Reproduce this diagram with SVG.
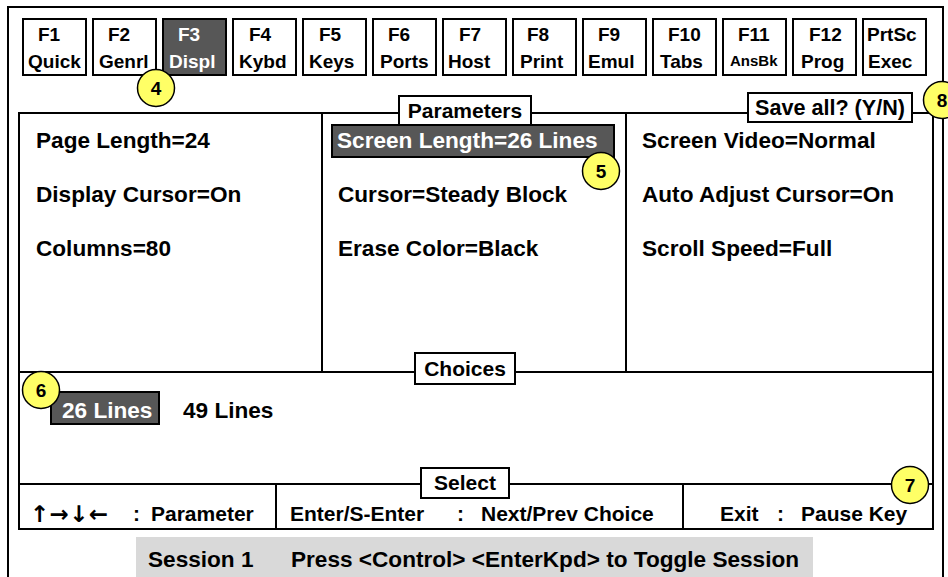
<svg xmlns="http://www.w3.org/2000/svg" width="948" height="577" viewBox="0 0 948 577">
<style>
text{font-family:"Liberation Sans",Arial,sans-serif;font-weight:bold;fill:#000}
.fr{fill:none;stroke:#000;stroke-width:2}
.box{fill:#fff;stroke:#000;stroke-width:2}
.sel{fill:#575757;stroke:#000;stroke-width:2}
.ln{stroke:#000;stroke-width:2;fill:none}
.k{font-size:19px}
.t{font-size:22.6px}
.s{font-size:21px}
.ss{font-size:22.6px}
.ar{font-family:"DejaVu Sans",sans-serif;font-weight:bold;font-size:23px}
.w{fill:#fff}
.c{fill:#ffff66;stroke:#000;stroke-width:1.5}
.n{font-size:19px;text-anchor:middle}
</style>
<rect width="948" height="577" fill="#fff"/>
<rect id="outer" class="fr" x="8" y="7" width="935" height="600"/>
<g id="keys">
<g id="kF1"><rect class="box" x="23" y="19" width="63" height="56"/><text class="k" x="38" y="41">F1</text><text class="k" x="28" y="68">Quick</text></g>
<g id="kF2"><rect class="box" x="93" y="19" width="63" height="56"/><text class="k" x="108" y="41">F2</text><text class="k" x="99" y="68">Genrl</text></g>
<g id="kF3"><rect class="sel" x="163" y="19" width="63" height="56"/><text class="k w" x="178" y="41">F3</text><text class="k w" x="169" y="68">Displ</text></g>
<g id="kF4"><rect class="box" x="233" y="19" width="63" height="56"/><text class="k" x="249" y="41">F4</text><text class="k" x="239" y="68">Kybd</text></g>
<g id="kF5"><rect class="box" x="303" y="19" width="63" height="56"/><text class="k" x="319" y="41">F5</text><text class="k" x="309" y="68">Keys</text></g>
<g id="kF6"><rect class="box" x="373" y="19" width="63" height="56"/><text class="k" x="388" y="41">F6</text><text class="k" x="380" y="68">Ports</text></g>
<g id="kF7"><rect class="box" x="443" y="19" width="63" height="56"/><text class="k" x="459" y="41">F7</text><text class="k" x="448" y="68">Host</text></g>
<g id="kF8"><rect class="box" x="513" y="19" width="63" height="56"/><text class="k" x="527" y="41">F8</text><text class="k" x="520" y="68">Print</text></g>
<g id="kF9"><rect class="box" x="583" y="19" width="63" height="56"/><text class="k" x="598" y="41">F9</text><text class="k" x="588" y="68">Emul</text></g>
<g id="kF10"><rect class="box" x="653" y="19" width="63" height="56"/><text class="k" x="668" y="41">F10</text><text class="k" x="660" y="68">Tabs</text></g>
<g id="kF11"><rect class="box" x="723" y="19" width="63" height="56"/><text class="k" x="738" y="41">F11</text><text x="730" y="66" font-size="15">AnsBk</text></g>
<g id="kF12"><rect class="box" x="793" y="19" width="63" height="56"/><text class="k" x="809" y="41">F12</text><text class="k" x="801" y="68">Prog</text></g>
<g id="kPrtSc"><rect class="box" x="863" y="19" width="63" height="56"/><text class="k" x="867" y="41">PrtSc</text><text class="k" x="868" y="68">Exec</text></g>
</g>
<g id="connectors">
<rect class="fr" x="19" y="113" width="914" height="416"/>
<line class="ln" x1="322" y1="113" x2="322" y2="372"/>
<line class="ln" x1="626" y1="113" x2="626" y2="372"/>
<line class="ln" x1="19" y1="372" x2="933" y2="372"/>
<line class="ln" x1="19" y1="484" x2="933" y2="484"/>
<line class="ln" x1="276" y1="484" x2="276" y2="529"/>
<line class="ln" x1="683" y1="484" x2="683" y2="529"/>
</g>
<g id="parameters"><rect class="box" x="399" y="96" width="132" height="29"/><text class="s" x="465" y="118" text-anchor="middle">Parameters</text></g>
<g id="saveall"><rect class="box" x="748" y="93" width="164" height="29"/><text x="830" y="115" font-size="21.6" text-anchor="middle">Save all? (Y/N)</text></g>
<g id="col1">
<text class="t" x="36" y="148">Page Length=24</text>
<text class="t" x="36" y="202">Display Cursor=On</text>
<text class="t" x="36" y="256">Columns=80</text>
</g>
<g id="col2">
<rect class="sel" x="332" y="125" width="282" height="32"/>
<text class="t w" x="337" y="148">Screen Length=26 Lines</text>
<text class="t" x="338" y="202">Cursor=Steady Block</text>
<text class="t" x="338" y="256">Erase Color=Black</text>
</g>
<g id="col3">
<text class="t" x="642" y="148">Screen Video=Normal</text>
<text class="t" x="642" y="202">Auto Adjust Cursor=On</text>
<text class="t" x="642" y="256">Scroll Speed=Full</text>
</g>
<g id="choices"><rect class="box" x="415" y="353" width="100" height="31"/><text class="s" x="465" y="376" text-anchor="middle">Choices</text></g>
<g id="choiceitems">
<rect class="sel" x="51" y="392" width="108" height="32"/>
<text class="t w" x="62" y="418">26 Lines</text>
<text class="t" x="183" y="418">49 Lines</text>
</g>
<g id="select"><rect class="box" x="421" y="468" width="88" height="30"/><text class="s" x="465" y="490" text-anchor="middle">Select</text></g>
<g id="statusrow">
<text class="ar" x="30" y="522" textLength="78" lengthAdjust="spacing">↑→↓←</text>
<text class="s" x="133" y="521">:</text>
<text class="s" x="151" y="521">Parameter</text>
<text class="s" x="290" y="521">Enter/S-Enter</text>
<text class="s" x="457" y="521">:</text>
<text class="s" x="481" y="521">Next/Prev Choice</text>
<text class="s" x="720" y="521">Exit</text>
<text class="s" x="777" y="521">:</text>
<text class="s" x="801" y="521">Pause Key</text>
</g>
<g id="session"><rect x="136" y="537" width="677" height="42" fill="#d9d9d9"/><text class="ss" x="148" y="567">Session 1</text><text class="ss" x="291" y="567">Press &lt;Control&gt; &lt;EnterKpd&gt; to Toggle Session</text></g>
<g id="callout4"><circle class="c" cx="156" cy="88" r="18.5"/><text class="n" x="156" y="95">4</text></g>
<g id="callout5"><circle class="c" cx="601" cy="171" r="18.5"/><text class="n" x="601" y="178">5</text></g>
<g id="callout6"><circle class="c" cx="41" cy="390" r="18.5"/><text class="n" x="41" y="397">6</text></g>
<g id="callout7"><circle class="c" cx="910" cy="485" r="18.5"/><text class="n" x="910" y="492">7</text></g>
<g id="callout8"><circle class="c" cx="942" cy="100" r="18.5"/><text class="n" x="942" y="107">8</text></g>
</svg>
